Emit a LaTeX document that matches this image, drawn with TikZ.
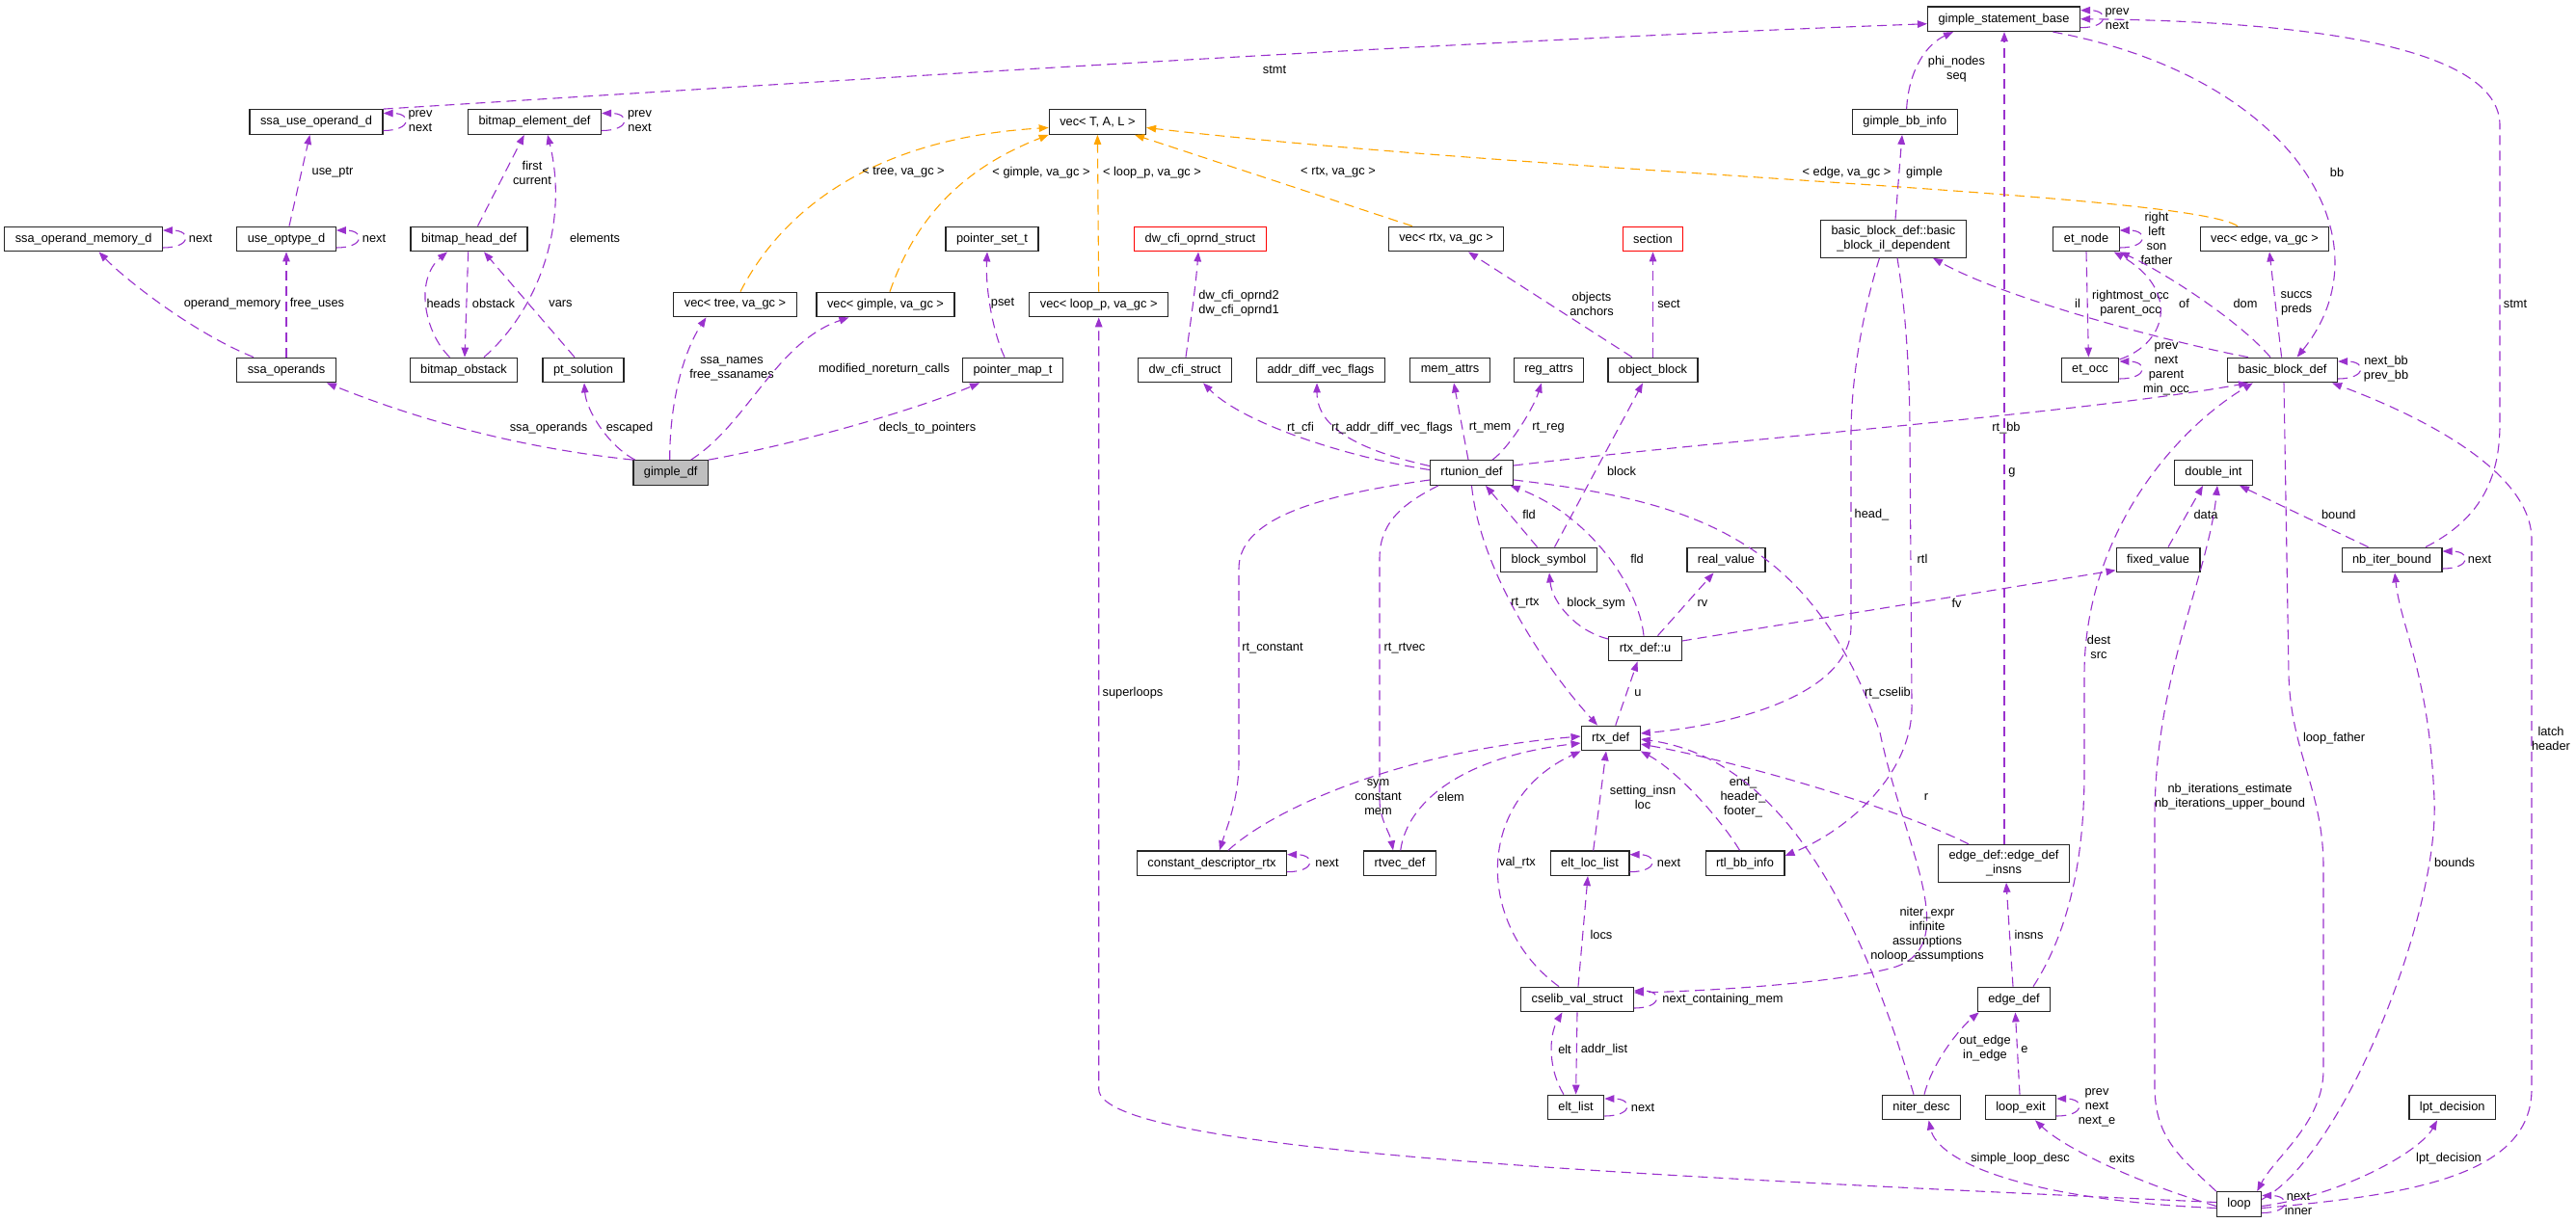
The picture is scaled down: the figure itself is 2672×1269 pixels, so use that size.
\documentclass[tikz,border=0pt]{standalone}
\usepackage{fontspec}
\setmainfont{Liberation Sans}
\usetikzlibrary{arrows.meta}
\definecolor{relpurple}{HTML}{9A32CD}
\definecolor{tmplorange}{HTML}{FFA500}
\definecolor{boxgrey}{HTML}{BFBFBF}
\tikzset{
  box/.style={draw=black!85, line width=1.2pt, fill=white, rectangle, inner xsep=11pt, inner ysep=6pt, minimum height=25.6pt, align=center},
  redbox/.style={box, draw=red},
  rel/.style={draw=relpurple, line width=1.1pt, dash pattern=on 10pt off 6pt, -{Triangle[length=10pt,width=7.5pt]}},
  tmpl/.style={rel, draw=tmplorange},
  lbl/.style={text=black, inner sep=0pt, align=center}
}

\begin{document}
\begin{tikzpicture}[x=1pt, y=-1pt, font=\fontsize{12.8}{15}\selectfont]
  \fill[white] (0,0) rectangle (2672,1269);
  \useasboundingbox (0,0) rectangle (2672,1269);

  \node[box] (gsb) at (2078.5,19.7) {gimple\_statement\_base};
  \node[box] (ssause) at (328,126.5) {ssa\_use\_operand\_d};
  \node[box] (bitelem) at (554.5,126.5) {bitmap\_element\_def};
  \node[box] (vecT) at (1138.4,126.5) {vec< T, A, L >};
  \node[box] (gbbinfo) at (1975.8,126.5) {gimple\_bb\_info};
  \node[box] (ssamem) at (86.6,248) {ssa\_operand\_memory\_d};
  \node[box] (useopt) at (297,248) {use\_optype\_d};
  \node[box] (bithead) at (486.5,248) {bitmap\_head\_def};
  \node[box] (pset) at (1029,248) {pointer\_set\_t};
  \node[redbox] (dwoprnd) at (1245,248) {dw\_cfi\_oprnd\_struct};
  \node[box] (vecrtx) at (1500,248) {vec< rtx, va\_gc >};
  \node[redbox] (section) at (1714.5,248) {section};
  \node[box] (bbil) at (1964,247.7) {basic\_block\_def::basic\\\_block\_il\_dependent};
  \node[box] (etnode) at (2164,248) {et\_node};
  \node[box] (vecedge) at (2349,248) {vec< edge, va\_gc >};
  \node[box] (vectree) at (762.5,316) {vec< tree, va\_gc >};
  \node[box] (vecgimple) at (918.5,316) {vec< gimple, va\_gc >};
  \node[box] (vecloop) at (1139.7,316) {vec< loop\_p, va\_gc >};
  \node[box] (ssaops) at (297,384) {ssa\_operands};
  \node[box] (bitobst) at (481,384) {bitmap\_obstack};
  \node[box] (ptsol) at (605,384) {pt\_solution};
  \node[box] (pmap) at (1050.5,384) {pointer\_map\_t};
  \node[box] (dwcfi) at (1229,384) {dw\_cfi\_struct};
  \node[box] (addrdiff) at (1370,384) {addr\_diff\_vec\_flags};
  \node[box] (memattrs) at (1504,384) {mem\_attrs};
  \node[box] (regattrs) at (1606.5,384) {reg\_attrs};
  \node[box] (objblock) at (1714.5,384) {object\_block};
  \node[box] (etocc) at (2168,384) {et\_occ};
  \node[box] (bbdef) at (2367.6,384) {basic\_block\_def};
  \node[box, fill=boxgrey] (gimpledf) at (695.7,490.5) {gimple\_df};
  \node[box] (rtunion) at (1526.5,490.5) {rtunion\_def};
  \node[box] (dblint) at (2296,490.5) {double\_int};
  \node[box] (blksym) at (1606.5,581) {block\_symbol};
  \node[box] (realval) at (1790.5,581) {real\_value};
  \node[box] (fixedval) at (2238.5,581) {fixed\_value};
  \node[box] (nbiter) at (2481,581) {nb\_iter\_bound};
  \node[box] (rtxu) at (1706.5,673) {rtx\_def::u};
  \node[box] (rtxdef) at (1670.7,766) {rtx\_def};
  \node[box] (constdesc) at (1257,895.7) {constant\_descriptor\_rtx};
  \node[box] (rtvec) at (1452,895.7) {rtvec\_def};
  \node[box] (eltloc) at (1649,895.7) {elt\_loc\_list};
  \node[box] (rtlbb) at (1810,895.7) {rtl\_bb\_info};
  \node[box] (edgeinsns) at (2078.5,895.8) {edge\_def::edge\_def\\\_insns};
  \node[box] (cselib) at (1636,1037) {cselib\_val\_struct};
  \node[box] (edgedef) at (2089,1037) {edge\_def};
  \node[box] (eltlist) at (1634.6,1149) {elt\_list};
  \node[box] (niter) at (1993,1149) {niter\_desc};
  \node[box] (loopexit) at (2096,1149) {loop\_exit};
  \node[box] (lpt) at (2543.7,1149) {lpt\_decision};
  \node[box] (loop) at (2322.5,1249.5) {loop};

  % self references
  \foreach \n/\txt/\lx/\ly in {gsb/{prev\\next}/2196/19.5, ssause/{prev\\next}/436/126, bitelem/{prev\\next}/663.5/126,
      ssamem/{next}/208/247, useopt/{next}/388/247, etnode/{right\\left\\son\\father}/2237/247,
      etocc/{prev\\next\\parent\\min\_occ}/2247/383, bbdef/{next\_bb\\prev\_bb}/2475/383, nbiter/{next}/2572/580,
      constdesc/{next}/1376.5/895, eltloc/{next}/1731/895, cselib/{next\_containing\_mem}/1787/1037,
      eltlist/{next}/1704/1149, loopexit/{prev\\next\\next\_e}/2175/1149, loop/{next\\inner}/2384/1249}
    \draw[rel] ([yshift=-9pt]\n.east) .. controls +(30,0) and +(30,0) .. ([yshift=9pt]\n.east) node[lbl] at (\lx,\ly) {\txt};

  % gimple_df
  \draw[rel] (gimpledf.north west) .. controls (550,466) and (445,440) .. ([xshift=42pt]ssaops.south) node[lbl] at (569,444) {ssa\_operands};
  \draw[rel] ([xshift=-37pt]gimpledf.north) .. controls (630,462) and (608,425) .. ([xshift=1pt]ptsol.south) node[lbl] at (653,444) {escaped};
  \draw[rel] ([xshift=-1pt]gimpledf.north) .. controls (694.6,410) and (712,360) .. ([xshift=-30pt]vectree.south) node[lbl] at (759,383) {ssa\_names\\free\_ssanames};
  \draw[rel] ([xshift=21pt]gimpledf.north) .. controls (775,440) and (805,355) .. ([xshift=-38pt]vecgimple.south) node[lbl] at (917,383) {modified\_noreturn\_calls};
  \draw[rel] (gimpledf.north east) .. controls (830,460) and (950,425) .. ([xshift=-34.5pt]pmap.south) node[lbl] at (962,444) {decls\_to\_pointers};
  \draw[rel] ([xshift=-8.5pt]pmap.north) .. controls (1030,345) and (1022,300) .. ([xshift=-5pt]pset.south) node[lbl] at (1040,315) {pset};

  % templates
  \draw[tmpl] ([xshift=5.5pt]vectree.north) .. controls (800,240) and (880,145) .. ([yshift=-6pt]vecT.west) node[lbl] at (937,179) {< tree, va\_gc >};
  \draw[tmpl] ([xshift=4.5pt]vecgimple.north) .. controls (945,240) and (985,180) .. (vecT.south west) node[lbl] at (1080,179) {< gimple, va\_gc >};
  \draw[tmpl] (vecloop.north) -- (vecT.south) node[lbl] at (1195,179) {< loop\_p, va\_gc >};
  \draw[tmpl] ([xshift=-35pt]vecrtx.north) -- ([xshift=38.6pt]vecT.south) node[lbl] at (1388,179) {< rtx, va\_gc >};
  \draw[tmpl] ([xshift=-28pt]vecedge.north) .. controls (2270,200) and (1600,180) .. ([yshift=-6pt]vecT.east) node[lbl] at (1915.5,179) {< edge, va\_gc >};

  % ssa and bitmaps
  \draw[rel] (ssause.north east) .. controls (930,80) and (1460,45) .. ([yshift=-5pt]gsb.west) node[lbl] at (1322,72.7) {stmt};
  \draw[rel] ([xshift=3pt]useopt.north) -- ([xshift=-6.6pt]ssause.south) node[lbl] at (345,179) {use\_ptr};
  \draw[rel] ([xshift=-34pt]ssaops.north) .. controls (200,345) and (130,290) .. ([xshift=16pt]ssamem.south) node[lbl] at (241,315) {operand\_memory};
  \draw[rel] (ssaops.north) -- (useopt.south) node[lbl] at (329,315) {free\_uses};
  \draw[rel] ([xshift=9pt]bithead.north) -- ([xshift=-10.75pt]bitelem.south) node[lbl] at (552,179) {first\\current};
  \draw[rel] ([xshift=21pt]bitobst.north) .. controls (560,320) and (590,230) .. ([xshift=13.5pt]bitelem.south) node[lbl] at (617,247) {elements};
  \draw[rel] ([xshift=-14.5pt]bitobst.north) .. controls (440,345) and (430,290) .. ([xshift=-22.5pt]bithead.south) node[lbl] at (460,315) {heads};
  \draw[rel] ([xshift=-0.8pt]bithead.south) -- ([xshift=1pt]bitobst.north) node[lbl] at (512,315) {obstack};
  \draw[rel] ([xshift=-9pt]ptsol.north) -- ([xshift=15.5pt]bithead.south) node[lbl] at (581.5,315) {vars};

  % rtunion_def
  \draw[rel] ([yshift=3pt]rtunion.west) .. controls (1400,475) and (1290,440) .. ([xshift=19pt]dwcfi.south) node[lbl] at (1349,444) {rt\_cfi};
  \draw[rel] ([xshift=1pt]dwcfi.north) .. controls (1234,340) and (1240,300) .. ([xshift=-2pt]dwoprnd.south) node[lbl] at (1285,315) {dw\_cfi\_oprnd2\\dw\_cfi\_oprnd1};
  \draw[rel] ([yshift=7pt]rtunion.west) .. controls (1400,465) and (1366,440) .. ([xshift=-4pt]addrdiff.south) node[lbl] at (1444,444) {rt\_addr\_diff\_vec\_flags};
  \draw[rel] ([xshift=-3.5pt]rtunion.north) -- ([xshift=4pt]memattrs.south) node[lbl] at (1545.5,444) {rt\_mem};
  \draw[rel] ([xshift=21.5pt]rtunion.north) .. controls (1565,465) and (1590,425) .. ([xshift=-7.5pt]regattrs.south) node[lbl] at (1606,444) {rt\_reg};
  \draw[rel] ([xshift=6pt]blksym.north) -- ([xshift=-10.5pt]objblock.south) node[lbl] at (1682,489) {block};
  \draw[rel] ([xshift=-21.5pt]objblock.north) -- ([xshift=23pt]vecrtx.south) node[lbl] at (1651,315) {objects\\anchors};
  \draw[rel] (objblock.north) -- (section.south) node[lbl] at (1731,315) {sect};
  \draw[rel] ([yshift=7.5pt]rtunion.east) .. controls (1800,455) and (2150,430) .. ([xshift=-35.6pt]bbdef.south) node[lbl] at (2081,444) {rt\_bb};
  \draw[rel] ([yshift=-7.5pt]rtunion.west) .. controls (1360,515) and (1285,540) .. (1285,590) -- (1285,790) .. controls (1285,830) and (1272,860) .. ([xshift=8pt]constdesc.north) node[lbl] at (1320,673) {rt\_constant};
  \draw[rel] ([xshift=9pt]rtunion.south west) .. controls (1450,525) and (1431,545) .. (1431,580) -- (1431,830) .. controls (1431,850) and (1442,865) .. ([xshift=-7pt]rtvec.north) node[lbl] at (1457,673) {rt\_rtvec};
  \draw[rel] (rtunion.south) .. controls (1535,590) and (1600,690) .. ([xshift=-13.7pt]rtxdef.north) node[lbl] at (1582,626) {rt\_rtx};
  \draw[rel] ([xshift=-12pt]blksym.north) -- ([xshift=14.5pt]rtunion.south) node[lbl] at (1586,534) {fld};
  \draw[rel] ([xshift=-1.5pt]rtxu.north) .. controls (1700,610) and (1650,535) .. ([xshift=-3.5pt]rtunion.south east) node[lbl] at (1698,580) {fld};
  \draw[rel] ([yshift=10pt]rtxu.west) .. controls (1635,655) and (1610,625) .. ([xshift=0.5pt]blksym.south) node[lbl] at (1655.6,626) {block\_sym};
  \draw[rel] ([xshift=13pt]rtxu.north) -- ([xshift=-13pt]realval.south) node[lbl] at (1766,626) {rv};
  \draw[rel] ([yshift=8pt]rtxu.east) -- ([yshift=-10.7pt]fixedval.west) node[lbl] at (2029.5,626) {fv};
  \draw[rel] ([xshift=5pt]rtxdef.north) -- ([xshift=-8pt]rtxu.south) node[lbl] at (1699,719) {u};
  \draw[rel] ([yshift=-7.5pt]rtunion.east) .. controls (1760,520) and (1880,560) .. (1950,760) .. controls (1975,880) and (2040,985) .. (1960,1005) .. controls (1900,1020) and (1780,1028) .. ([yshift=7pt]cselib.east) node[lbl] at (1958,719) {rt\_cselib};

  % rtx_def
  \draw[rel] ([xshift=-19pt]cselib.north) .. controls (1530,960) and (1530,830) .. (rtxdef.south west) node[lbl] at (1574,895) {val\_rtx};
  \draw[rel] ([xshift=17pt]constdesc.north) .. controls (1320,840) and (1450,780) .. ([yshift=2pt]rtxdef.west) node[lbl] at (1429.5,827) {sym\\constant\\mem};
  \draw[rel] ([xshift=0.7pt]rtvec.north) .. controls (1460,830) and (1520,785) .. ([yshift=-5pt]rtxdef.west) node[lbl] at (1505,827) {elem};
  \draw[rel] ([xshift=3.7pt]eltloc.north) -- ([xshift=-4.7pt]rtxdef.south) node[lbl] at (1704,827) {setting\_insn\\loc};
  \draw[rel] ([xshift=-5.5pt]rtlbb.north) .. controls (1785,850) and (1740,800) .. (rtxdef.south east) node[lbl] at (1808,827) {end\_\\header\_\\footer\_};
  \draw[rel] ([xshift=-8pt]niter.north) .. controls (1945,1000) and (1870,790) .. ([yshift=-1pt]rtxdef.east) node[lbl] at (1999,970) {niter\_expr\\infinite\\assumptions\\noloop\_assumptions};
  \draw[rel] ([xshift=-36.5pt]edgeinsns.north) .. controls (1960,835) and (1800,790) .. ([yshift=-6pt]rtxdef.east) node[lbl] at (1998,827) {r};
  \draw[rel] ([xshift=-14.5pt]bbil.south) .. controls (1930,330) and (1920,400) .. (1920,450) -- (1920,650) .. controls (1920,720) and (1800,752) .. ([yshift=5pt]rtxdef.east) node[lbl] at (1941.5,534) {head\_};
  \draw[rel] ([xshift=4pt]bbil.south) .. controls (1978,330) and (1981,400) .. (1981,450) -- (1983,730) .. controls (1985,800) and (1920,860) .. ([yshift=7.7pt]rtlbb.east) node[lbl] at (1994,580) {rtl};

  % basic blocks and edges
  \draw[rel] ([xshift=-35.6pt]bbdef.north) .. controls (2250,355) and (2080,310) .. ([xshift=41pt]bbil.south) node[lbl] at (2155,315) {il};
  \draw[rel] ([xshift=2pt]bbil.north) -- ([xshift=-2.8pt]gbbinfo.south) node[lbl] at (1996,179) {gimple};
  \draw[rel] ([xshift=1.8pt]gbbinfo.north) .. controls (1980,70) and (2000,45) .. ([xshift=-52.5pt]gsb.south) node[lbl] at (2029.4,72) {phi\_nodes\\seq};
  \draw[rel] ([xshift=0.5pt]edgeinsns.north) -- ([xshift=0.5pt]gsb.south) node[lbl] at (2087,490) {g};
  \draw[rel] ([xshift=51pt]gsb.south) .. controls (2380,80) and (2480,250) .. ([xshift=15pt]bbdef.north) node[lbl] at (2424,179) {bb};
  \draw[rel] (etnode.south) -- ([xshift=-1.6pt]etocc.north) node[lbl] at (2210,315) {rightmost\_occ\\parent\_occ};
  \draw[rel] ([yshift=11pt]etocc.east) .. controls (2250,355) and (2260,300) .. ([xshift=-6pt]etnode.south east) node[lbl] at (2265.5,315) {of};
  \draw[rel] ([xshift=-12.6pt]bbdef.north) .. controls (2320,330) and (2240,280) .. (etnode.south east) node[lbl] at (2329,315) {dom};
  \draw[rel] ([xshift=-1pt]bbdef.north) -- ([xshift=5pt]vecedge.south) node[lbl] at (2382,315) {succs\\preds};
  \draw[rel] ([xshift=20pt]edgedef.north) .. controls (2150,960) and (2162,880) .. (2162,800) -- (2162,700) .. controls (2162,560) and (2250,450) .. ([xshift=-30.8pt]bbdef.south) node[lbl] at (2177,671.5) {dest\\src};
  \draw[rel] ([xshift=-1pt]edgedef.north) -- ([xshift=2.5pt]edgeinsns.south) node[lbl] at (2104.5,970) {insns};
  \draw[rel] ([xshift=-1pt]loopexit.north) -- ([xshift=1.4pt]edgedef.south) node[lbl] at (2100,1089) {e};
  \draw[rel] ([xshift=3pt]niter.north) .. controls (2005,1100) and (2035,1065) .. ([xshift=2pt]edgedef.south west) node[lbl] at (2059,1088) {out\_edge\\in\_edge};

  % double_int and bounds
  \draw[rel] ([xshift=10.5pt]fixedval.north) -- ([xshift=-11pt]dblint.south) node[lbl] at (2288,534) {data};
  \draw[rel] ([xshift=-24.5pt]nbiter.north) -- ([xshift=27pt]dblint.south) node[lbl] at (2425.8,534) {bound};
  \draw[rel] ([xshift=35pt]nbiter.north) .. controls (2570,540) and (2593,500) .. (2593,440) -- (2593,130) .. controls (2593,50) and (2400,22) .. (gsb.east) node[lbl] at (2609,315) {stmt};

  % loop
  \draw[rel] ([yshift=2pt]loop.west) .. controls (1700,1220) and (1140,1195) .. (1139.7,1130) -- (vecloop.south) node[lbl] at (1175,719) {superloops};
  \draw[rel] ([yshift=-2pt]loop.west) .. controls (2210,1225) and (2140,1190) .. ([xshift=15pt]loopexit.south) node[lbl] at (2201,1202) {exits};
  \draw[rel] ([yshift=-4pt]loop.west) .. controls (2100,1245) and (2010,1205) .. ([xshift=7.6pt]niter.south) node[lbl] at (2095.5,1202) {simple\_loop\_desc};
  \draw[rel] (loop.north west) .. controls (2260,1200) and (2236,1180) .. (2235,1130) -- (2235,850) .. controls (2235,700) and (2290,600) .. ([xshift=4pt]dblint.south) node[lbl] at (2313,827) {nb\_iterations\_estimate\\nb\_iterations\_upper\_bound};
  \draw[rel] ([xshift=1.4pt]bbdef.south) -- (2374,700) .. controls (2376,780) and (2410,820) .. (2410,900) -- (2410,1110) .. controls (2410,1165) and (2360,1200) .. ([xshift=-5pt]loop.north east) node[lbl] at (2421,766) {loop\_father};
  \draw[rel] ([yshift=5pt]loop.east) .. controls (2430,1200) and (2530,950) .. (2525,830) .. controls (2520,700) and (2490,650) .. ([xshift=3pt]nbiter.south) node[lbl] at (2546,895) {bounds};
  \draw[rel] ([yshift=-2pt]loop.east) .. controls (2430,1240) and (2510,1195) .. ([xshift=-15.7pt]lpt.south) node[lbl] at (2540,1202) {lpt\_decision};
  \draw[rel] ([yshift=-4pt]loop.east) .. controls (2500,1240) and (2626,1220) .. (2626,1130) -- (2626,560) .. controls (2626,480) and (2480,420) .. ([xshift=-6pt]bbdef.south east) node[lbl] at (2646,766) {latch\\header};

  % cselib
  \draw[rel] ([xshift=1pt]cselib.north) -- ([xshift=-2pt]eltloc.south) node[lbl] at (1661,970) {locs};
  \draw[rel] (cselib.south) -- (eltlist.north) node[lbl] at (1664,1089) {addr\_list};
  \draw[rel] ([xshift=-12.6pt]eltlist.north) .. controls (1606,1110) and (1606,1075) .. ([xshift=-15.5pt]cselib.south) node[lbl] at (1623,1089) {elt};
\end{tikzpicture}
\end{document}
